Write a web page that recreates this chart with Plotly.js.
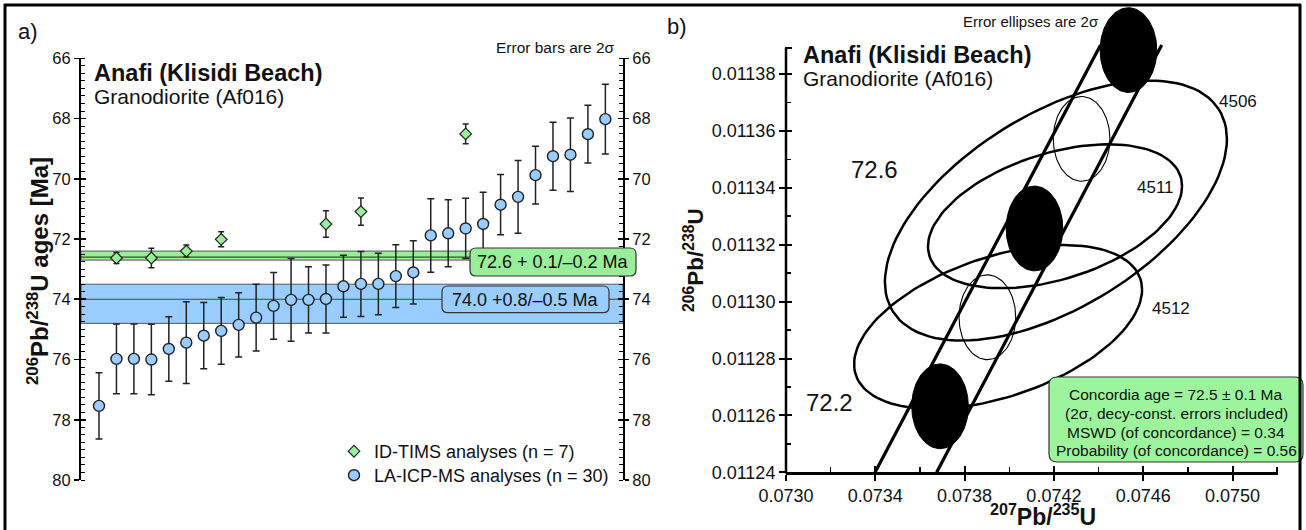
<!DOCTYPE html>
<html><head><meta charset="utf-8">
<script src="https://cdn.plot.ly/plotly-3.0.1.min.js"></script>
<style>html,body{margin:0;padding:0;background:#fff}#chart{width:1306px;height:530px}</style>
</head><body><div id="chart"></div>
<script>
// ---------------- data: panel a) ----------------
const laIdx = [1,2,3,4,5,6,7,8,9,10,11,12,13,14,15,16,17,18,19,20,21,22,23,24,25,26,27,28,29,30];
const laAge = [77.54,75.98,75.98,76.00,75.65,75.44,75.21,75.05,74.85,74.61,74.22,74.02,74.02,73.99,73.57,73.49,73.49,73.23,73.11,71.88,71.81,71.65,71.50,70.86,70.60,69.88,69.25,69.20,68.52,68.02];
const laErr = [1.10,1.16,1.16,1.17,1.07,1.36,1.10,1.11,1.07,1.11,1.11,1.37,1.10,1.13,1.03,1.08,1.02,1.04,1.05,1.22,1.11,1.00,1.05,1.00,1.21,0.96,1.13,1.22,0.96,1.16];
const tiIdx = [2,4,6,8,14,16,22];
const tiAge = [72.63,72.63,72.40,72.01,71.50,71.09,68.51];
const tiErr = [0.18,0.32,0.20,0.25,0.44,0.45,0.33];
const tiMean = [72.6, 72.4, 72.7];   // mean, lower, upper
const laMean = [74.0, 73.5, 74.8];
const yTicksA = [66,68,70,72,74,76,78,80];

// ---------------- data: panel b) ----------------
const markAge = [72.2,72.4,72.6,72.8,73.0];
const markX = [0.073690,0.073902,0.074113,0.074324,0.074534];
const markY = [0.0112632,0.0112945,0.0113257,0.0113572,0.0113884];
const markSx = [0.0001268,0.0001268,0.0001268,0.0001268,0.0001268];
const markSy = [0.0000149,0.0000149,0.0000149,0.0000149,0.0000149];
const markFill = ['black','white','black','white','black'];
const ellName = ['4506','4511','4512'];
const ellCx = [0.074209,0.074205,0.073950];
const ellCy = [0.011332,0.011330,0.0112911];
const ellSx = [0.000766,0.000569,0.000645];
const ellSy = [0.0000457,0.0000253,0.0000288];
const ellRho = [0.55,0.42,0.455];
const bandLeftX = [0.073399,0.074409];
const bandRightX = [0.073675,0.074683];
const bandY = [0.01124,0.0113902];
const xTicksB = [0.0730,0.0734,0.0738,0.0742,0.0746,0.0750];
const yTicksB = [0.01124,0.01126,0.01128,0.01130,0.01132,0.01134,0.01136,0.01138];
const yMinorB = [0.01125,0.01127,0.01129,0.01131,0.01133,0.01135,0.01137];

// ---------------- helpers ----------------
const W=1306,H=530;
const PX=x=>x/W, PY=y=>1-y/H;
const FONT='Liberation Sans, Arial, sans-serif';
function ellipse(cx,cy,sx,sy,rho){
  const xs=[],ys=[],n=120,q=Math.sqrt(1-rho*rho);
  for(let i=0;i<=n;i++){const t=2*Math.PI*i/n;xs.push(cx+sx*Math.cos(t));ys.push(cy+sy*(rho*Math.cos(t)+q*Math.sin(t)));}
  return [xs,ys];
}
function rrect(x0,y0,x1,y1,r){
  const X=PX,Y=PY;
  return `M${X(x0+r)},${Y(y0)} L${X(x1-r)},${Y(y0)} Q${X(x1)},${Y(y0)} ${X(x1)},${Y(y0+r)} L${X(x1)},${Y(y1-r)} Q${X(x1)},${Y(y1)} ${X(x1-r)},${Y(y1)} L${X(x0+r)},${Y(y1)} Q${X(x0)},${Y(y1)} ${X(x0)},${Y(y1-r)} L${X(x0)},${Y(y0+r)} Q${X(x0)},${Y(y0)} ${X(x0+r)},${Y(y0)} Z`;
}

const traces=[];
traces.push({type:'scatter',mode:'markers',x:tiIdx,y:tiAge,xaxis:'x',yaxis:'y',name:'ID-TIMS analyses (n = 7)',legend:'legend',
  error_y:{type:'data',array:tiErr,color:'#222',thickness:1.5,width:3},
  marker:{symbol:'diamond',size:9,color:'#99ee99',line:{color:'#222',width:1.2}},cliponaxis:false});
traces.push({type:'scatter',mode:'markers',x:laIdx,y:laAge,xaxis:'x',yaxis:'y',name:'LA-ICP-MS analyses (n = 30)',legend:'legend2',
  error_y:{type:'data',array:laErr,color:'#222',thickness:1.5,width:3.5},
  marker:{symbol:'circle',size:11,color:'#99ccff',line:{color:'#222',width:1.4}},cliponaxis:false});
['y2','y3','y4'].forEach(a=>traces.push({type:'scatter',x:[],y:[],xaxis:'x',yaxis:a,showlegend:false,hoverinfo:'skip'}));

// panel b
for(let i=0;i<ellName.length;i++){
  const [xs,ys]=ellipse(ellCx[i],ellCy[i],ellSx[i],ellSy[i],ellRho[i]);
  traces.push({type:'scatter',mode:'lines',x:xs,y:ys,xaxis:'x2',yaxis:'y5',showlegend:false,hoverinfo:'skip',line:{color:'#000',width:2.5}});
}
traces.push({type:'scatter',mode:'lines',x:bandLeftX,y:bandY,xaxis:'x2',yaxis:'y5',showlegend:false,line:{color:'#000',width:3.2}});
traces.push({type:'scatter',mode:'lines',x:bandRightX,y:bandY,xaxis:'x2',yaxis:'y5',showlegend:false,line:{color:'#000',width:3.2}});
for(let i=0;i<markAge.length;i++){
  const [xs,ys]=ellipse(markX[i],markY[i],markSx[i],markSy[i],0);
  const black=markFill[i]==='black';
  traces.push({type:'scatter',mode:'lines',x:xs,y:ys,xaxis:'x2',yaxis:'y5',showlegend:false,hoverinfo:'skip',
    fill:black?'toself':'none',fillcolor:'#000',line:{color:'#000',width:black?1:1.1}});
}
traces.push({type:'scatter',x:[],y:[],xaxis:'x3',yaxis:'y5',showlegend:false,hoverinfo:'skip'});
traces.push({type:'scatter',x:[],y:[],xaxis:'x2',yaxis:'y6',showlegend:false,hoverinfo:'skip'});

const tickFontA={family:FONT,size:16.5,color:'#111'};
const tickFontB={family:FONT,size:18,color:'#111'};
const yA={range:[80,66],tickvals:yTicksA,showgrid:false,zeroline:false,showline:true,linecolor:'#000',linewidth:2,
  ticks:'outside',ticklen:5,tickwidth:1.6,tickcolor:'#000',tickfont:tickFontA,
  minor:{dtick:0.25,tick0:66,ticks:'inside',ticklen:4,tickwidth:1,tickcolor:'#000'}};
const dA=[PY(480),PY(58.3)];
const legFont={family:FONT,size:18,color:'#111'};

const layout={
  width:W,height:H,margin:{l:0,r:0,t:0,b:0},autosize:false,paper_bgcolor:'#fff',plot_bgcolor:'rgba(0,0,0,0)',
  font:{family:FONT,color:'#111'},
  showlegend:true,
  legend:{x:PX(334),y:PY(433),xanchor:'left',yanchor:'top',bgcolor:'rgba(0,0,0,0)',font:legFont,tracegroupgap:0},
  legend2:{x:PX(334),y:PY(457),xanchor:'left',yanchor:'top',bgcolor:'rgba(0,0,0,0)',font:legFont,tracegroupgap:0},
  xaxis:{domain:[PX(81),PX(623)],range:[-0.03,31.01],visible:false,anchor:'y'},
  yaxis:Object.assign({},yA,{domain:dA,anchor:'x',side:'left'}),
  yaxis2:Object.assign({},yA,{domain:dA,anchor:'x',overlaying:'y',side:'right',ticklen:4}),
  yaxis3:{domain:dA,anchor:'x',overlaying:'y',side:'left',range:[80,66],tickvals:yTicksA,ticks:'inside',ticklen:5,tickwidth:1.6,tickcolor:'#000',showticklabels:false,showgrid:false,zeroline:false,showline:false},
  yaxis4:{domain:dA,anchor:'x',overlaying:'y',side:'right',range:[80,66],tickvals:yTicksA,ticks:'inside',ticklen:5,tickwidth:1.6,tickcolor:'#000',showticklabels:false,showgrid:false,zeroline:false,showline:false},
  xaxis2:{domain:[PX(786),PX(1278)],range:[0.0730,0.0752038],anchor:'y5',tickvals:xTicksB,tickformat:'.4f',ticks:'outside',ticklen:6,tickwidth:2,tickcolor:'#000',
    showline:true,linecolor:'#000',linewidth:2.5,showgrid:false,zeroline:false,tickfont:tickFontB,
    minor:{dtick:0.0002,tick0:0.0730,ticks:'inside',ticklen:5,tickwidth:1.5,tickcolor:'#000'}},
  xaxis3:{domain:[PX(786),PX(1278)],range:[0.0730,0.0752038],anchor:'y5',overlaying:'x2',tickvals:xTicksB,ticks:'inside',ticklen:6,tickwidth:2,tickcolor:'#000',showticklabels:false,showgrid:false,zeroline:false,showline:false},
  yaxis5:{domain:[PY(472.3),PY(4)],range:[0.01124,0.0114046],anchor:'x2',tickvals:yTicksB,tickformat:'.5f',ticks:'outside',ticklen:6,tickwidth:2,tickcolor:'#000',
    showline:false,showgrid:false,zeroline:false,tickfont:tickFontB,
    minor:{tickvals:yMinorB,ticks:'inside',ticklen:5,tickwidth:1.5,tickcolor:'#000'}},
  yaxis6:{domain:[PY(472.3),PY(4)],range:[0.01124,0.0114046],anchor:'x2',overlaying:'y5',side:'left',tickvals:yTicksB,ticks:'inside',ticklen:6,tickwidth:2,tickcolor:'#000',showticklabels:false,showgrid:false,zeroline:false,showline:false},
  shapes:[],annotations:[]
};

// bands (panel a)
const S=layout.shapes;
S.push({type:'rect',xref:'x domain',yref:'y',x0:0,x1:1,y0:laMean[1],y1:laMean[2],fillcolor:'#99ccff',line:{color:'#555',width:1},layer:'below'});
S.push({type:'line',xref:'x domain',yref:'y',x0:0,x1:1,y0:laMean[0],y1:laMean[0],line:{color:'#444',width:1.2},layer:'below'});
S.push({type:'rect',xref:'x domain',yref:'y',x0:0,x1:1,y0:tiMean[1],y1:tiMean[2],fillcolor:'#99ee99',line:{color:'#555',width:1},layer:'below'});
S.push({type:'line',xref:'x domain',yref:'y',x0:0,x1:1,y0:tiMean[0],y1:tiMean[0],line:{color:'#444',width:1.2},layer:'below'});
// label boxes
S.push({type:'path',xref:'paper',yref:'paper',path:rrect(470,248,636,276,6),fillcolor:'#99ee99',line:{color:'#333',width:1.2},layer:'above'});
S.push({type:'path',xref:'paper',yref:'paper',path:rrect(442,286,609,312.7,6),fillcolor:'#99ccff',line:{color:'#333',width:1.2},layer:'above'});
S.push({type:'path',xref:'paper',yref:'paper',path:rrect(1049,377,1303,462,8),fillcolor:'#9cf59c',line:{color:'#333',width:1.2},layer:'above'});
// panel b y axis line
S.push({type:'line',xref:'paper',yref:'paper',x0:PX(786),x1:PX(786),y0:PY(473.5),y1:PY(48),line:{color:'#000',width:2.5}});
S.push({type:'line',xref:'paper',yref:'paper',x0:PX(785),x1:PX(792),y0:PY(48),y1:PY(48),line:{color:'#000',width:2}});
// outer frame
S.push({type:'line',xref:'paper',yref:'paper',x0:PX(4),x1:PX(1301),y0:PY(5),y1:PY(5),line:{color:'#000',width:3}});
S.push({type:'line',xref:'paper',yref:'paper',x0:PX(5),x1:PX(5),y0:PY(4),y1:PY(530),line:{color:'#000',width:3}});
S.push({type:'line',xref:'paper',yref:'paper',x0:PX(1300),x1:PX(1300),y0:PY(4),y1:PY(530),line:{color:'#000',width:3}});

const A=layout.annotations;
function txt(text,x,y,size,xa,opts){A.push(Object.assign({text,x:PX(x),y:PY(y),xref:'paper',yref:'paper',xanchor:xa||'center',yanchor:'middle',showarrow:false,
  font:{family:FONT,size,color:'#111'}},opts||{}));}
txt('a)',28,32,22);
txt('b)',677,27,22);
txt('<b>Anafi (Klisidi Beach)</b>',92,73,23.5,'left');
txt('Granodiorite (Af016)',92,96.5,21,'left');
txt('Error bars are 2σ',617,48,15.5,'right');
txt('<b><sup>206</sup>Pb/<sup>238</sup>U ages [Ma]</b>',38,271,24,'center',{textangle:-90});
txt('72.6 + 0.1/–0.2 Ma',553,262.5,18);
txt('74.0 +0.8/–0.5 Ma',525.5,299.5,18);
txt('Error ellipses are 2σ',1101,22,15,'right');
txt('<b>Anafi (Klisidi Beach)</b>',801,54.5,23.5,'left');
txt('Granodiorite (Af016)',801,78.5,21,'left');
txt('<b><sup>206</sup>Pb/<sup>238</sup>U</b>',694,260,22.5,'center',{textangle:-90});
txt('<b><sup>207</sup>Pb/<sup>235</sup>U</b>',1043,515,23);
txt(String(markAge[2]),874,169,24);
txt(String(markAge[0]),830,402,24);
txt(ellName[0],1238,102,17);
txt(ellName[1],1155,187,17);
txt(ellName[2],1171,308,17);
txt('Concordia age = 72.5 ± 0.1 Ma',1176,395,15.5);
txt('(2σ, decy-const. errors included)',1176,413.5,15.5);
txt('MSWD (of concordance) = 0.34',1176,432,15.5);
txt('Probability (of concordance) = 0.56',1176,450.5,15.5);

Plotly.newPlot('chart',traces,layout,{staticPlot:true,displayModeBar:false});
</script></body></html>
